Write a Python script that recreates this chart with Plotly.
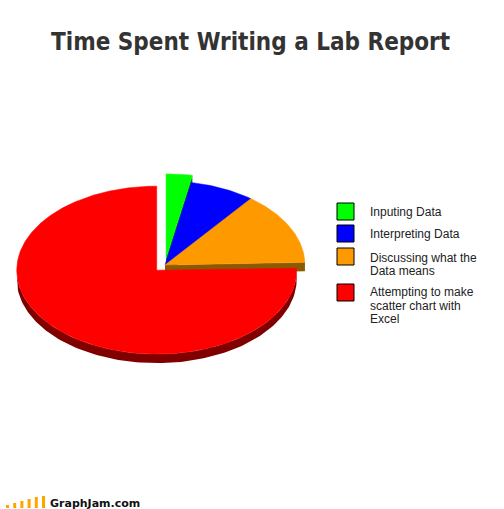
import numpy as np
import plotly.graph_objects as go

# ---- data ----
labels = ["Inputing Data", "Interpreting Data", "Discussing what the<br>Data means",
          "Attempting to make<br>scatter chart with<br>Excel"]
values = [3.0, 7.5, 14.0, 75.5]
top_colors = ["#00FF00", "#0000FF", "#FF9900", "#FF0000"]
side_colors = ["#008000", "#000080", "#8B5A00", "#800000"]
pulls = [0.085, 0.0, 0.0, 0.085]
title = "Time Spent Writing a Lab Report"

# ---- geometry of the tilted pie (pixel space) ----
W, H = 504, 509
CX, CY, RX, RY, DEPTH = 165, 265, 140, 84, 9

fig = go.Figure()

total = sum(values)
start = 0.0
for lab, v, ct, cs, p in zip(labels, values, top_colors, side_colors, pulls):
    span = v / total * 360.0
    a0, a1 = start, start + span
    start = a1
    mid = np.radians((a0 + a1) / 2)
    cx = CX + RX * p * np.sin(mid)
    cy = CY - RY * p * np.cos(mid)

    def pt(t_deg, dz=0.0):
        t = np.radians(t_deg)
        return cx + RX * np.sin(t), cy - RY * np.cos(t) + dz

    # radial wall at end angle, visible when it faces the viewer
    t_end = np.radians(a1)
    if np.sin(t_end) > 0.05:
        ex, ey = pt(a1)
        xs = [cx, ex, ex, cx, cx]
        ys = [cy, ey, ey + DEPTH, cy + DEPTH, cy]
        fig.add_trace(go.Scatter(x=xs, y=ys, fill="toself", mode="lines",
                                 line=dict(width=0, color=cs), fillcolor=cs,
                                 hoverinfo="skip", showlegend=False))
    # outer wall on the front half of the ellipse
    w0, w1 = max(a0, 90.0), min(a1, 270.0)
    if w1 > w0:
        ts = np.linspace(w0, w1, 120)
        top = [pt(t) for t in ts]
        bot = [pt(t, DEPTH) for t in ts[::-1]]
        xs = [q[0] for q in top] + [q[0] for q in bot]
        ys = [q[1] for q in top] + [q[1] for q in bot]
        fig.add_trace(go.Scatter(x=xs + [xs[0]], y=ys + [ys[0]], fill="toself", mode="lines",
                                 line=dict(width=0, color=cs), fillcolor=cs,
                                 hoverinfo="skip", showlegend=False))
    # top face
    ts = np.linspace(a0, a1, max(8, int(span * 2)))
    arc = [pt(t) for t in ts]
    xs = [cx] + [q[0] for q in arc] + [cx]
    ys = [cy] + [q[1] for q in arc] + [cy]
    fig.add_trace(go.Scatter(x=xs, y=ys, fill="toself", mode="lines",
                             line=dict(width=0.5, color=ct), fillcolor=ct,
                             hoverinfo="skip", showlegend=False))

# ---- legend (drawn manually) ----
box_y = [211, 233, 256, 292]
line_y = [[212], [234], [258, 271], [292, 305.5, 319]]
shapes = []
annotations = []
for lab, ct, yy, lys in zip(labels, top_colors, box_y, line_y):
    shapes.append(dict(type="rect", xref="x", yref="y", x0=337, x1=354, y0=yy - 8, y1=yy + 9,
                       fillcolor=ct, line=dict(color="#000000", width=1)))
    for part, ly in zip(lab.split("<br>"), lys):
        annotations.append(dict(x=368, y=ly, xref="x", yref="y", text=part, showarrow=False,
                                xanchor="left", yanchor="middle", align="left",
                                font=dict(family="Liberation Sans, Arial, sans-serif", size=12,
                                          color="#222222")))

# title
annotations.append(dict(x=250, y=42, xref="x", yref="y", text="<b>" + title + "</b>",
                        showarrow=False, xanchor="center", yanchor="middle",
                        font=dict(family="DejaVu Sans Condensed, sans-serif",
                                  size=24, color="#333333")))

# GraphJam logo
bar_h = [3, 5, 7, 9, 11, 12]
for i, h in enumerate(bar_h):
    shapes.append(dict(type="rect", xref="x", yref="y", x0=6 + i * 7.2, x1=9 + i * 7.2,
                       y0=508 - h, y1=508, fillcolor="#FFA500", line=dict(width=0)))
annotations.append(dict(x=48, y=503, xref="x", yref="y", text="<b>GraphJam.com</b>",
                        showarrow=False, xanchor="left", yanchor="middle",
                        font=dict(family="DejaVu Sans, sans-serif", size=11, color="#111111")))

fig.update_layout(
    width=W, height=H, autosize=False,
    margin=dict(l=0, r=0, t=0, b=0),
    paper_bgcolor="white", plot_bgcolor="white",
    xaxis=dict(range=[0, W], visible=False, fixedrange=True),
    yaxis=dict(range=[H, 0], visible=False, fixedrange=True),
    shapes=shapes, annotations=annotations, showlegend=False,
)

fig.write_html("out.html")
